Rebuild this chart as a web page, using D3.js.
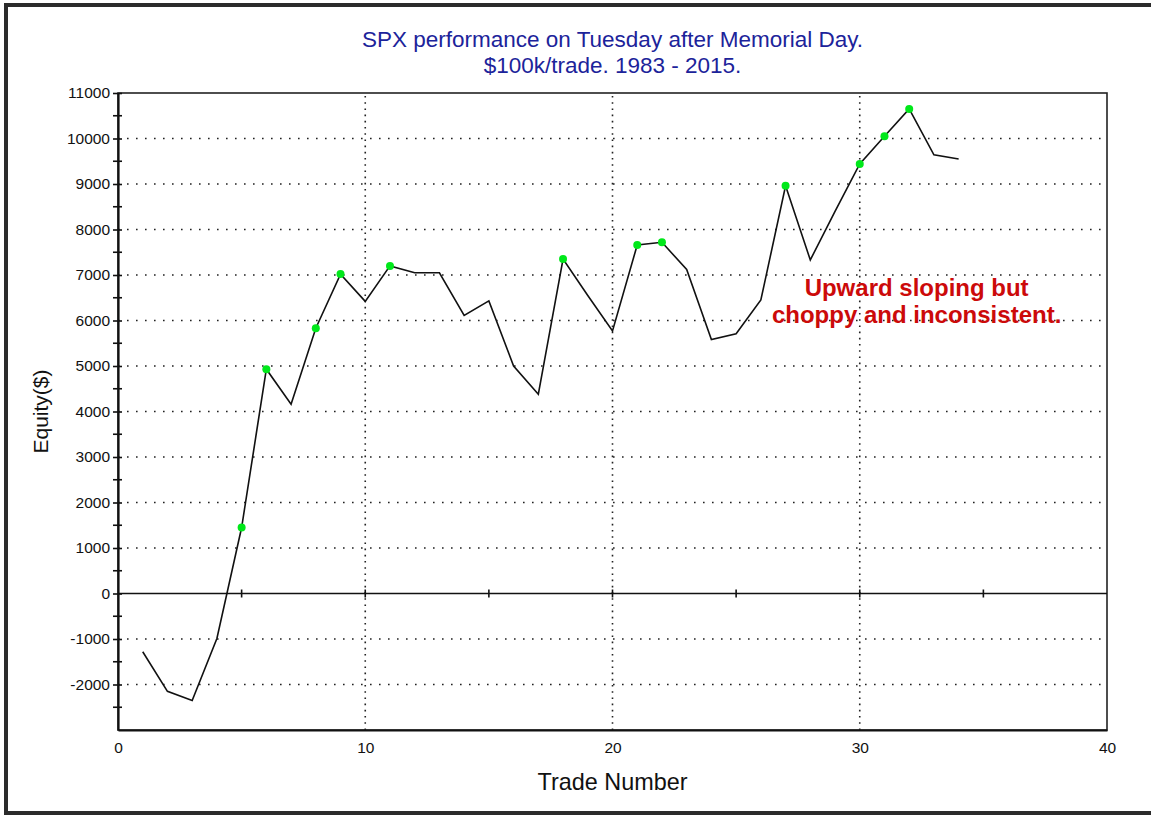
<!doctype html>
<html>
    <head>
        <meta charset="utf-8">
        <script src="https://cdn.jsdelivr.net/npm/d3@7"></script>
        <style>
            html, body {
                margin: 0;
                padding: 0;
                background: #fff;
            }
            #viz svg text {
                font-family: "Liberation Sans", Arial, sans-serif;
            }
        </style>
    </head>
    <body>
        <div id="viz"></div>
        <script>
            // trade number -> cumulative equity ($)
            var trades = [1, 2, 3, 4, 5, 6, 7, 8, 9, 10, 11, 12, 13, 14, 15, 16, 17,
                18, 19, 20, 21, 22, 23, 24, 25, 26, 27, 28, 29, 30, 31, 32, 33, 34];
            var equity = [-1280, -2150, -2350, -990, 1450, 4930, 4160, 5830, 7020, 6420,
                7200, 7050, 7050, 6110, 6430, 5000, 4380, 7350, 6550, 5770, 7660, 7720,
                7120, 5580, 5710, 6450, 8960, 7330, 8400, 9440, 10050, 10650, 9640, 9550];
            // trades that set a new equity high (green dots)
            var highTrades = [5, 6, 8, 9, 11, 18, 21, 22, 27, 30, 31, 32];

            var yTickValues = [-2000, -1000, 0, 1000, 2000, 3000, 4000, 5000, 6000,
                7000, 8000, 9000, 10000, 11000];
            var yGridValues = [-2000, -1000, 1000, 2000, 3000, 4000, 5000, 6000,
                7000, 8000, 9000, 10000];
            var yMinorValues = d3.range(-2500, 11000, 1000);
            var xTickValues = [0, 10, 20, 30, 40];
            var xGridValues = [10, 20, 30];
            var xZeroTicks = [5, 10, 15, 20, 25, 30, 35];

            var titleLines = ["SPX performance on Tuesday after Memorial Day.",
                "$100k/trade. 1983 - 2015."];
            var noteLines = ["Upward sloping but", "choppy and inconsistent."];

            var W = 1151, H = 818;
            var m = {left: 118, right: 1107, top: 93, bottom: 730};

            var svg = d3.select("#viz").append("svg")
                .attr("width", W)
                .attr("height", H);

            // outer frame (right edge is cut off in the original)
            svg.append("rect")
                .attr("x", 6).attr("y", 5)
                .attr("width", W + 10).attr("height", H - 10)
                .attr("fill", "none")
                .attr("stroke", "#2b2b2b")
                .attr("stroke-width", 4);

            var x = d3.scaleLinear().domain([0, 40]).range([m.left, m.right]);
            var y = d3.scaleLinear().domain([-3000, 11000]).range([m.bottom, m.top]);

            // dotted grid
            svg.append("g").selectAll("line.hg")
                .data(yGridValues)
                .enter().append("line")
                    .attr("x1", m.left).attr("x2", m.right)
                    .attr("y1", function (d) { return y(d); })
                    .attr("y2", function (d) { return y(d); })
                    .attr("stroke", "#222")
                    .attr("stroke-width", 1.6)
                    .attr("stroke-dasharray", "1.6,7.4");

            svg.append("g").selectAll("line.vg")
                .data(xGridValues)
                .enter().append("line")
                    .attr("x1", function (d) { return x(d); })
                    .attr("x2", function (d) { return x(d); })
                    .attr("y1", m.top + 3).attr("y2", m.bottom)
                    .attr("stroke", "#222")
                    .attr("stroke-width", 1.6)
                    .attr("stroke-dasharray", "1.6,4.6");

            // plot border
            svg.append("rect")
                .attr("x", m.left).attr("y", m.top)
                .attr("width", m.right - m.left)
                .attr("height", m.bottom - m.top)
                .attr("fill", "none")
                .attr("stroke", "#222")
                .attr("stroke-width", 1.6);

            // zero line with small ticks
            svg.append("line")
                .attr("x1", m.left).attr("x2", m.right)
                .attr("y1", y(0)).attr("y2", y(0))
                .attr("stroke", "#111")
                .attr("stroke-width", 1.6);
            svg.append("g").selectAll("line")
                .data(xZeroTicks)
                .enter().append("line")
                    .attr("x1", function (d) { return x(d); })
                    .attr("x2", function (d) { return x(d); })
                    .attr("y1", y(0) - 4).attr("y2", y(0) + 4)
                    .attr("stroke", "#111")
                    .attr("stroke-width", 1.6);

            // left axis
            var yAxis = svg.append("g")
                .attr("transform", "translate(" + m.left + ",0)")
                .call(d3.axisLeft(y)
                    .tickValues(yTickValues)
                    .tickSizeInner(5)
                    .tickSizeOuter(0)
                    .tickPadding(3)
                    .tickFormat(function (d) { return String(d); }));
            yAxis.select(".domain").attr("stroke", "#111").attr("stroke-width", 2.2);
            yAxis.selectAll(".tick line").attr("stroke", "#111").attr("stroke-width", 1.6).attr("x2", 4).attr("x1", -5);
            yAxis.selectAll(".tick text")
                .attr("fill", "#111")
                .style("font-size", "15.5px");

            svg.append("g").selectAll("line")
                .data(yMinorValues)
                .enter().append("line")
                    .attr("x1", m.left - 5).attr("x2", m.left + 4)
                    .attr("y1", function (d) { return y(d); })
                    .attr("y2", function (d) { return y(d); })
                    .attr("stroke", "#111")
                    .attr("stroke-width", 1.6);

            // bottom axis labels
            var xAxis = svg.append("g")
                .attr("transform", "translate(0," + m.bottom + ")")
                .call(d3.axisBottom(x)
                    .tickValues(xTickValues)
                    .tickSize(0)
                    .tickPadding(12));
            xAxis.select(".domain").attr("stroke", "#111").attr("stroke-width", 2.2);
            xAxis.selectAll(".tick text")
                .attr("fill", "#111")
                .style("font-size", "15.5px");

            // equity line
            var line = d3.line()
                .x(function (d, i) { return x(trades[i]); })
                .y(function (d) { return y(d); });

            svg.append("path")
                .datum(equity)
                .attr("d", line)
                .attr("fill", "none")
                .attr("stroke", "#111")
                .attr("stroke-width", 1.6);

            svg.append("g").selectAll("circle")
                .data(highTrades)
                .enter().append("circle")
                    .attr("cx", function (d) { return x(d); })
                    .attr("cy", function (d) { return y(equity[trades.indexOf(d)]); })
                    .attr("r", 4)
                    .attr("fill", "#00e81a");

            // title
            svg.append("g").selectAll("text")
                .data(titleLines)
                .enter().append("text")
                    .attr("x", (m.left + m.right) / 2)
                    .attr("y", function (d, i) { return 46.5 + i * 26; })
                    .attr("text-anchor", "middle")
                    .attr("fill", "#1c239a")
                    .style("font-size", "22.5px")
                    .text(function (d) { return d; });

            svg.append("text")
                .attr("x", (m.left + m.right) / 2)
                .attr("y", 790)
                .attr("text-anchor", "middle")
                .attr("fill", "#111")
                .style("font-size", "23.4px")
                .text("Trade Number");

            svg.append("text")
                .attr("transform", "translate(48," + ((m.top + m.bottom) / 2) + ") rotate(-90)")
                .attr("text-anchor", "middle")
                .attr("fill", "#111")
                .style("font-size", "21px")
                .text("Equity($)");

            // annotation
            svg.append("g").selectAll("text")
                .data(noteLines)
                .enter().append("text")
                    .attr("x", x(32.3))
                    .attr("y", function (d, i) { return y(6530) + i * 27; })
                    .attr("text-anchor", "middle")
                    .attr("fill", "#cc0a0a")
                    .style("font-size", "24px")
                    .style("font-weight", "bold")
                    .text(function (d) { return d; });
        </script>
    </body>
</html>
